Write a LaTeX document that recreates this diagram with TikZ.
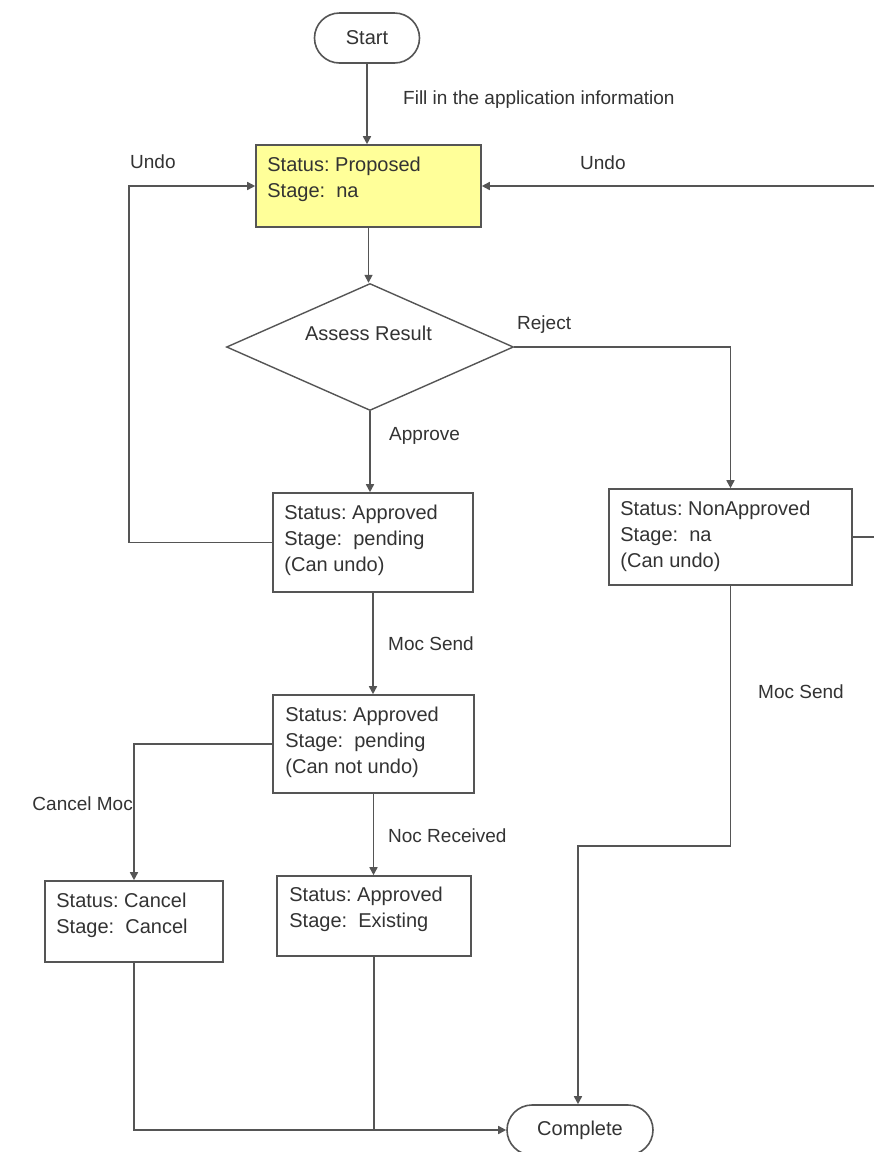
\documentclass[tikz,border=0pt]{standalone}
\usepackage{fontspec}
\setmainfont{Liberation Sans}
\usetikzlibrary{arrows.meta,shapes.geometric,shapes.misc,calc}
\definecolor{ln}{HTML}{555555}
\definecolor{tx}{HTML}{333333}
\definecolor{yel}{HTML}{FFFF99}
\frenchspacing
\begin{document}
\begin{tikzpicture}[x=1pt,y=-1pt,
  box/.style={draw=ln, line width=1.6pt, inner sep=0pt, fill=white},
  term/.style={draw=ln, line width=1.6pt, rounded rectangle, minimum height=50pt, inner sep=0pt, text=tx, font=\fontsize{20}{24}\selectfont},
  dia/.style={draw=ln, line width=1.4pt, diamond, aspect=2.26, inner sep=0pt, minimum width=287pt, minimum height=127pt},
  btxt/.style={anchor=north west, align=left, inner sep=0pt, text=tx, font=\fontsize{20}{26}\selectfont},
  lbl/.style={anchor=base west, inner sep=0pt, text=tx, font=\fontsize{19}{23}\selectfont},
  conn/.style={draw=ln, line width=1.6pt, -{Triangle[length=8pt,width=8pt]}},
  plain/.style={draw=ln, line width=1.6pt}]
\clip (0,0) rectangle (874,1152);
\fill[white] (0,0) rectangle (874,1152);

% nodes
\node[term, minimum width=105pt] (start) at (367,38) {Start};
\node[box, fill=yel, minimum width=225pt, minimum height=82pt] (prop) at (368.5,186) {};
\node[dia] (assess) at (370,347) {};
\node[box, minimum width=200pt, minimum height=99pt] (a1) at (373,542.5) {};
\node[box, minimum width=243pt, minimum height=96pt] (na) at (730.5,537) {};
\node[box, minimum width=201pt, minimum height=98pt] (a2) at (373.5,744) {};
\node[box, minimum width=178pt, minimum height=81pt] (cn) at (134,921.5) {};
\node[box, minimum width=194pt, minimum height=80pt] (a3) at (374,916) {};
\node[term, minimum width=146pt] (done) at (580,1130) {Complete};

% node texts
\node[btxt] (propt) at ($(prop.north west)+(12,12.5)$) {Status: Proposed\\Stage:\ \ na};
\node[anchor=base, inner sep=0pt, text=tx, font=\fontsize{20}{24}\selectfont] (assesst) at (368.5,340) {Assess Result};
\node[btxt] (a1t) at ($(a1.north west)+(12,12.5)$) {Status: Approved\\Stage:\ \ pending\\(Can undo)};
\node[btxt] (nat) at ($(na.north west)+(12,12.5)$) {Status: NonApproved\\Stage:\ \ na\\(Can undo)};
\node[btxt] (a2t) at ($(a2.north west)+(13,12.5)$) {Status: Approved\\Stage:\ \ pending\\(Can not undo)};
\node[btxt] (cnt) at ($(cn.north west)+(12,13)$) {Status: Cancel\\Stage:\ \ Cancel};
\node[btxt] (a3t) at ($(a3.north west)+(13,11.5)$) {Status: Approved\\Stage:\ \ Existing};

% connectors
\coordinate (bend) at (578,846);
\draw[conn] (start.south) -- (start.south |- prop.north);
\draw[conn] (prop.south) -- (prop.south |- assess.north);
\draw[conn] (assess.east) -| (na.north);
\draw[conn] (assess.south) -- (assess.south |- a1.north);
\draw[conn] (a1.west) -- ++(-143,0) |- (prop.west);
\draw[conn] (na.east) -- ++(60,0) |- (prop.east);
\draw[conn] (a1.south) -- (a1.south |- a2.north);
\draw[conn] (a2.west) -| (cn.north);
\draw[conn] (a2.south) -- (a2.south |- a3.north);
\draw[conn] (na.south) -- (na.south |- bend) -- (bend) -- (bend |- done.north);
\draw[conn] (cn.south) |- (done.west);
\draw[plain] (a3.south) -- (a3.south |- done.west);

% connector labels
\node[lbl] (lfill) at (403,104) {Fill in the application information};
\node[lbl] (lundol) at (130,168) {Undo};
\node[lbl] (lundor) at (580,169) {Undo};
\node[lbl] (lrej) at (517,329) {Reject};
\node[lbl] (lapp) at (389,440) {Approve};
\node[lbl] (lmoc1) at (388,650) {Moc Send};
\node[lbl] (lmoc2) at (758,698) {Moc Send};
\node[lbl, anchor=base east] (lcan) at (133,810) {Cancel Moc};
\node[lbl] (lnoc) at (388,842) {Noc Received};
\end{tikzpicture}
\end{document}
